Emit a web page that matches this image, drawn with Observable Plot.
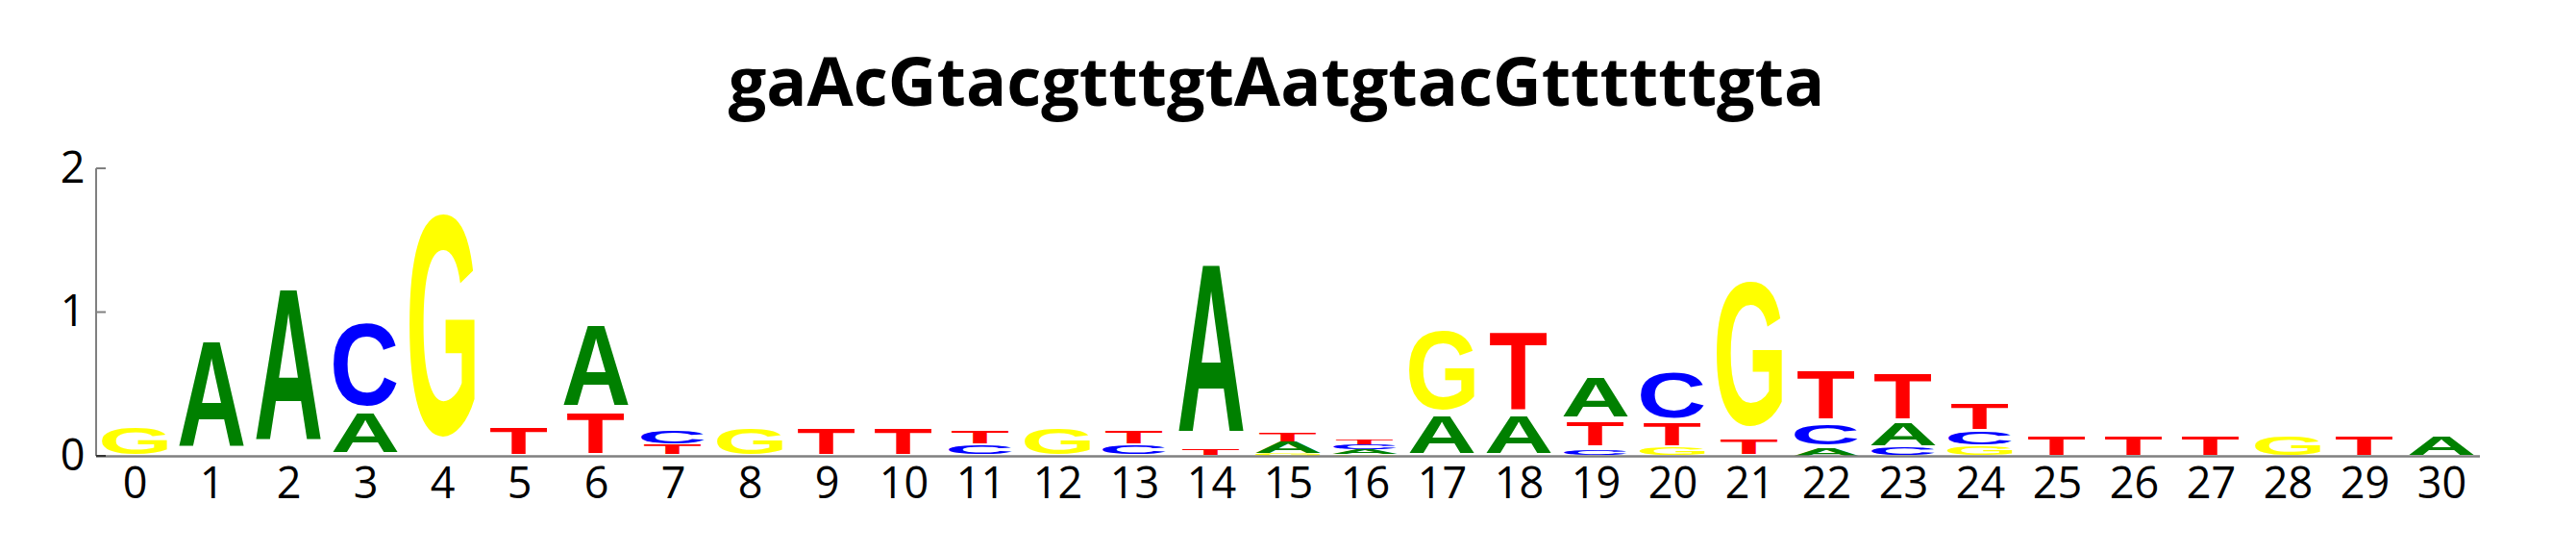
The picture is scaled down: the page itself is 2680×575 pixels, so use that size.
<!DOCTYPE html>
<html>
<head>
<meta charset="utf-8">
<script src="https://cdn.jsdelivr.net/npm/d3@7"></script>
<script src="https://cdn.jsdelivr.net/npm/@observablehq/plot@0.6"></script>
<style>
html, body { margin: 0; padding: 0; background: #fff; }
#title { width: 2680px; height: 150px; box-sizing: border-box; padding-top: 48px; padding-right: 24px;
  font: bold 70px "Open Sans"; line-height: 70px; text-align: center; color: #000; white-space: nowrap; }
#chart svg { display: block; }
</style>
</head>
<body>
<div id="title"></div>
<div id="chart"></div>
<script>
// ---- data ----
const titleText = "gaAcGtacgtttgtAatgtacGttttttgta";
const positions = [0,1,2,3,4,5,6,7,8,9,10,11,12,13,14,15,16,17,18,19,20,21,22,23,24,25,26,27,28,29,30];
const yTicks = [0, 1, 2];
const letterColors = {A: "#008000", C: "#0000ff", G: "#ffff00", T: "#ff0000"};
// each position: letters bottom-to-top as [letter, from (bits), to (bits)]
const stacks = [
  [["G", 0.008, 0.19]],
  [["A", 0.073, 0.804]],
  [["A", 0.111, 1.165]],
  [["A", 0.024, 0.296], ["C", 0.347, 0.92]],
  [["G", 0.134, 1.682]],
  [["T", 0.011, 0.189]],
  [["T", 0.022, 0.296], ["A", 0.356, 0.915]],
  [["T", 0.011, 0.077], ["C", 0.085, 0.176]],
  [["G", 0.011, 0.187]],
  [["T", 0.011, 0.187]],
  [["T", 0.011, 0.187]],
  [["C", 0.011, 0.075], ["T", 0.087, 0.171]],
  [["G", 0.011, 0.187]],
  [["C", 0.011, 0.075], ["T", 0.087, 0.171]],
  [["T", 0.007, 0.047], ["A", 0.174, 1.338]],
  [["G", 0.003, 0.016], ["A", 0.018, 0.098], ["T", 0.102, 0.165]],
  [["G", 0.003, 0.01], ["A", 0.012, 0.042], ["C", 0.046, 0.078], ["T", 0.082, 0.115]],
  [["A", 0.022, 0.278], ["G", 0.323, 0.871]],
  [["A", 0.022, 0.278], ["T", 0.33, 0.871]],
  [["C", 0.007, 0.045], ["T", 0.071, 0.231], ["A", 0.271, 0.542]],
  [["G", 0.003, 0.053], ["T", 0.073, 0.227], ["C", 0.26, 0.575]],
  [["T", 0.011, 0.111], ["G", 0.207, 1.214]],
  [["A", 0.003, 0.053], ["C", 0.078, 0.222], ["T", 0.259, 0.588]],
  [["C", 0.003, 0.053], ["A", 0.073, 0.227], ["T", 0.262, 0.578]],
  [["G", 0.003, 0.06], ["C", 0.078, 0.165], ["T", 0.19, 0.367]],
  [["T", 0.005, 0.138]],
  [["T", 0.005, 0.138]],
  [["T", 0.005, 0.138]],
  [["G", 0.005, 0.138]],
  [["T", 0.005, 0.138]],
  [["A", 0.005, 0.138]]
];

// ---- build ----
document.getElementById("title").textContent = titleText;

const rows = stacks.flatMap((s, i) => s.map(([letter, y1, y2]) => ({pos: positions[i], letter, y1, y2})));
const NS = "http://www.w3.org/2000/svg";
const glyphWidth = 0.85;   // ink width of "A" relative to band

function glyphs(index, scales, values, dims) {
  const {x, y} = scales;
  const g = document.createElementNS(NS, "g");
  g.setAttribute("text-anchor", "start");
  const bw = x.bandwidth ? x.bandwidth() : (dims.width - dims.marginLeft - dims.marginRight) / positions.length;
  const F = 100;
  const font = `bold ${F}px "Liberation Sans", Arial, sans-serif`;
  const ctx = document.createElement("canvas").getContext("2d");
  ctx.font = font;
  ctx.textAlign = "left";
  const ink = ch => {
    const m = ctx.measureText(ch);
    return {l: -m.actualBoundingBoxLeft, r: m.actualBoundingBoxRight, a: m.actualBoundingBoxAscent, d: m.actualBoundingBoxDescent};
  };
  const refA = ink("A");
  const sx = bw * glyphWidth / (refA.r - refA.l);
  for (const d of rows) {
    const m = ink(d.letter);
    const yb = y(d.y1), yt = y(d.y2);
    const sy = (yb - yt) / (m.a + m.d);
    const cx = x(d.pos) + bw / 2;
    const t = document.createElementNS(NS, "text");
    t.setAttribute("x", 0);
    t.setAttribute("y", 0);
    t.setAttribute("text-anchor", "start");
    t.setAttribute("font-family", '"Liberation Sans", Arial, sans-serif');
    t.setAttribute("font-weight", "bold");
    t.setAttribute("font-size", F);
    t.setAttribute("fill", letterColors[d.letter]);
    t.setAttribute("transform", `translate(${cx},${yb}) scale(${sx},${sy}) translate(${-(m.l + m.r) / 2},${-m.d})`);
    t.textContent = d.letter;
    g.appendChild(t);
  }
  return g;
}

function yAxisLine(index, scales, values, dims) {
  const {y} = scales;
  const g = document.createElementNS(NS, "g");
  g.setAttribute("stroke", "#808080");
  g.setAttribute("stroke-width", 2);
  const x0 = dims.marginLeft;
  const line = (x1, y1, x2, y2, c) => {
    const l = document.createElementNS(NS, "line");
    l.setAttribute("x1", x1); l.setAttribute("y1", y1);
    l.setAttribute("x2", x2); l.setAttribute("y2", y2);
    if (c) l.setAttribute("stroke", c);
    g.appendChild(l);
  };
  line(x0, y(yTicks[yTicks.length - 1]), x0, y(yTicks[0]));
  for (const t of yTicks) line(x0, y(t), x0 + 10, y(t), t === 0 ? "#333" : null);
  return g;
}

const chart = Plot.plot({
  width: 2680,
  height: 425,
  marginTop: 25,
  marginBottom: 101,
  marginLeft: 100,
  marginRight: 100,
  style: {fontFamily: '"Open Sans", sans-serif', fontSize: "45px", color: "#000", background: "#fff", overflow: "visible"},
  x: {type: "band", domain: positions, padding: 0, label: null, tickSize: 0, tickPadding: 12},
  y: {domain: [0, 2], ticks: yTicks, label: null, tickSize: 0, tickPadding: 12, tickFormat: d => String(d)},
  marks: [
    Plot.barY(rows, {x: "pos", y1: "y1", y2: "y2", fill: "#fff", fillOpacity: 0}),
    glyphs,
    Plot.ruleY([0], {stroke: "#808080", strokeWidth: 2.5}),
    yAxisLine
  ]
});
document.getElementById("chart").appendChild(chart);
</script>
</body>
</html>
